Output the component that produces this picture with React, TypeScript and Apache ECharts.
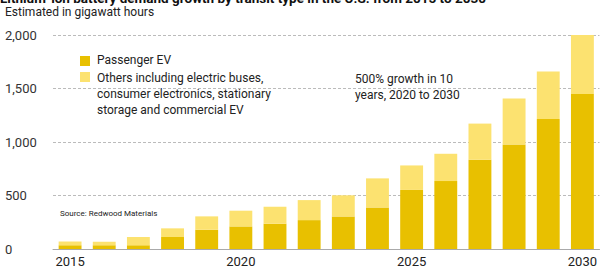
import React, { useEffect, useRef } from "react";
import * as echarts from "echarts";

const years = ["2015","2016","2017","2018","2019","2020","2021","2022","2023","2024","2025","2026","2027","2028","2029","2030"];
const passengerEV = [35, 35, 35, 112, 180, 211, 236, 270, 304, 388, 552, 635, 834, 977, 1216, 1448];
const others = [35, 33, 77, 81, 125, 147, 159, 187, 198, 272, 229, 255, 338, 430, 443, 555];
const yTicks = [0, 500, 1000, 1500, 2000];

const FONT = "Roboto, 'Noto Sans', sans-serif";
const DARK = "#E8C000";
const LIGHT = "#FCE270";

export default function App() {
  const ref = useRef<HTMLDivElement>(null);
  useEffect(() => {
    if (!ref.current) return;
    const chart = echarts.init(ref.current, null, { renderer: "svg" });
    chart.setOption({
      animation: false,
      backgroundColor: "#ffffff",
      grid: { left: 53, right: 0, top: 35, bottom: 19, containLabel: false },
      xAxis: {
        type: "category",
        data: years,
        boundaryGap: true,
        axisLine: { show: true, lineStyle: { color: "#aaaaaa", width: 1 } },
        axisTick: { show: false },
        axisLabel: { interval: 4, color: "#222", fontSize: 13, fontFamily: FONT, margin: 6 },
      },
      yAxis: {
        type: "value",
        min: yTicks[0],
        max: yTicks[yTicks.length - 1],
        interval: 500,
        axisLine: { show: false },
        axisTick: { show: false },
        axisLabel: {
          align: "left",
          margin: 48,
          color: "#333",
          fontSize: 13,
          fontFamily: FONT,
          formatter: (v: number) => v.toLocaleString("en-US"),
        },
        splitLine: { show: true, lineStyle: { color: "#bbbbbb", type: [3, 2], width: 1 } },
      },
      series: [
        { name: "Passenger EV", type: "bar", stack: "t", data: passengerEV, barWidth: "67%", itemStyle: { color: DARK } },
        { name: "Others", type: "bar", stack: "t", data: others, barWidth: "67%", itemStyle: { color: LIGHT } },
      ],
      graphic: [
        { type: "text", left: 0, top: -9, style: { text: "Lithium-ion battery demand growth by transit type in the U.S. from 2015 to 2030", fontSize: 13.5, fontWeight: "bold", fontFamily: FONT, fill: "#111" } },
        { type: "text", left: 5, top: 6, style: { text: "Estimated in gigawatt hours", fontSize: 12, fontFamily: FONT, fill: "#222" } },
        { type: "rect", shape: { x: 80, y: 56, width: 10, height: 10 }, style: { fill: DARK } },
        { type: "rect", shape: { x: 80, y: 72, width: 10, height: 10 }, style: { fill: LIGHT } },
        { type: "text", left: 97, top: 54, style: { text: "Passenger EV", fontSize: 12, fontFamily: FONT, fill: "#222" } },
        { type: "text", left: 97, top: 70, style: { text: "Others including electric buses,\nconsumer electronics, stationary\nstorage and commercial EV", fontSize: 12, lineHeight: 16, fontFamily: FONT, fill: "#222" } },
        { type: "text", left: 355, top: 71, style: { text: "500% growth in 10\nyears, 2020 to 2030", fontSize: 12, lineHeight: 16, fontFamily: FONT, fill: "#222" } },
        { type: "text", left: 60, top: 209, style: { text: "Source: Redwood Materials", fontSize: 8, fontFamily: FONT, fill: "#222" } },
      ],
    });
    return () => chart.dispose();
  }, []);
  return <div ref={ref} style={{ width: 600, height: 268, position: "absolute", left: 0, top: 0 }} />;
}
